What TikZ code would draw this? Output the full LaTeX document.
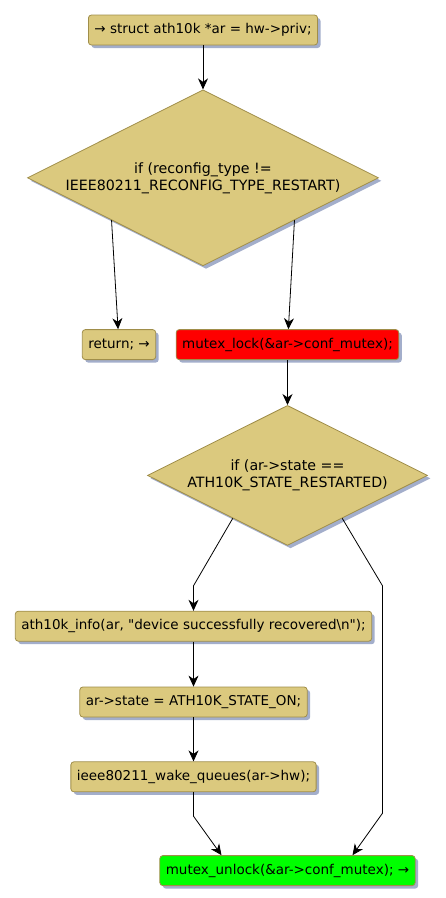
\documentclass[tikz,border=0pt]{standalone}
\usepackage{fontspec}
\setmainfont{DejaVu Sans}
\usetikzlibrary{arrows.meta, positioning, shapes.geometric, shadows, calc}
\definecolor{actfill}{HTML}{DBC97E}
\definecolor{actline}{HTML}{A08E4A}
\definecolor{actshadow}{HTML}{A3AECB}
\definecolor{lockred}{HTML}{FF0000}
\definecolor{unlockgreen}{HTML}{00FF00}

\begin{document}
\begin{tikzpicture}[
      act/.style={
        rectangle,
        rounded corners=3pt,
        draw=actline,
        fill=actfill,
        line width=0.8pt,
        minimum height=30pt,
        inner xsep=6pt,
        inner ysep=0pt,
        font=\fontsize{13.5}{16.5}\selectfont,
        drop shadow={shadow xshift=3pt, shadow yshift=-3pt, fill=actshadow, opacity=1}
      },
      cond/.style={
        act,
        diamond,
        rounded corners=0pt,
        aspect=2,
        align=center,
        inner sep=0pt,
        font=\fontsize{14.2}{17}\selectfont
      },
      arr/.style={-{Stealth[length=11pt, width=10pt, inset=3.5pt]}, line width=0.8pt}
    ]
      \useasboundingbox (0,0) rectangle (446pt,-898pt);

      \node[act] (structbox) at (203pt,-30pt) {→ struct ath10k *ar = hw->priv;};
      \node[cond, minimum width=351pt, minimum height=176pt, below=44pt of structbox]
        (reconfig) {if (reconfig\_type !=\\IEEE80211\_RECONFIG\_TYPE\_RESTART)};

      \node[act, below=63pt of reconfig, xshift=-84pt] (retbox) {return; →};
      \node[act, fill=lockred, below=63pt of reconfig, xshift=84.5pt] (lockbox) {mutex\_lock(\&ar->conf\_mutex);};

      \node[cond, minimum width=280pt, minimum height=140pt, below=45pt of lockbox]
        (statechk) {if (ar->state ==\\ATH10K\_STATE\_RESTARTED)};

      \node[act, below=65pt of statechk, xshift=-94pt] (infobox) {ath10k\_info(ar, \textquotedbl device successfully recovered\textbackslash n\textquotedbl);};
      \node[act, below=45pt of infobox] (stateon) {ar->state = ATH10K\_STATE\_ON;};
      \node[act, below=44pt of stateon] (wakeq) {ieee80211\_wake\_queues(ar->hw);};
      \node[act, fill=unlockgreen, below=63pt of wakeq, xshift=94pt] (unlockbox) {mutex\_unlock(\&ar->conf\_mutex); →};

      \draw[arr] (structbox) -- (reconfig);
      \draw[arr] ($(reconfig.west)!0.48!(reconfig.south)$) -- (retbox);
      \draw[arr] ($(reconfig.east)!0.48!(reconfig.south)$) -- (lockbox);
      \draw[arr] (lockbox) -- (statechk);

      % yes branch
      \draw[arr] ($(statechk.west)!0.61!(statechk.south)$)
        -- ([yshift=25pt]infobox.north) -- (infobox.north);
      \draw[arr] (infobox) -- (stateon);
      \draw[arr] (stateon) -- (wakeq);
      \draw[arr] (wakeq.south) -- ([yshift=-24pt]wakeq.south)
        -- ([xshift=-66pt]unlockbox.north);

      % no branch
      \draw[arr] ($(statechk.east)!0.61!(statechk.south)$)
        -- ([xshift=95pt, yshift=-40pt]statechk.south)
        -- ([xshift=95pt, yshift=42pt]unlockbox.north)
        -- ([xshift=65pt]unlockbox.north);
    \end{tikzpicture}
\end{document}
